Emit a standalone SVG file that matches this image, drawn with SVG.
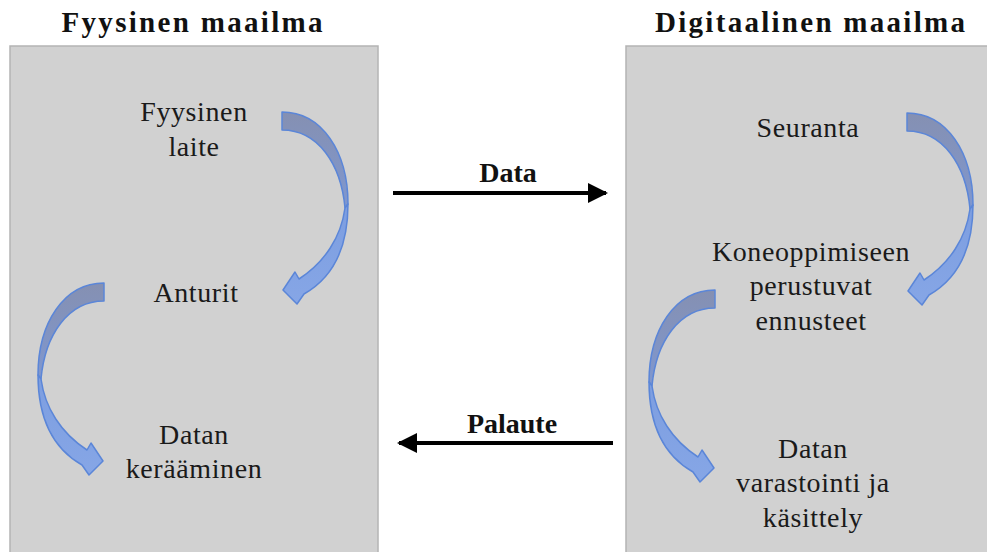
<svg xmlns="http://www.w3.org/2000/svg" xmlns:xlink="http://www.w3.org/1999/xlink" width="987" height="552" viewBox="0 0 987 552">
<style>
.box{fill:#d1d1d1;stroke:#b4b4b4;stroke-width:1.5}
text{font-family:"Liberation Serif","Times New Roman",serif}
.title{font-weight:bold;font-size:29px;fill:#111;text-anchor:middle}
.lbl{font-size:28px;fill:#1a1a1a;text-anchor:middle;letter-spacing:0.6px}
.elbl{font-weight:bold;font-size:28px;fill:#111;text-anchor:middle}
.conn{stroke:#000;stroke-width:4;fill:none}
.back{fill:url(#gBack);stroke:#5b86d8;stroke-width:1.5;stroke-linejoin:round}
.front{fill:url(#gFront);stroke:#5b86d8;stroke-width:1.5;stroke-linejoin:round}
</style>
<defs>
<linearGradient id="gBack" x1="0" y1="0" x2="0" y2="1">
<stop offset="0" stop-color="#8590b2"/>
<stop offset="1" stop-color="#7f97cf"/>
</linearGradient>
<linearGradient id="gFront" x1="0" y1="0" x2="0" y2="1">
<stop offset="0" stop-color="#7d9ee0"/>
<stop offset="1" stop-color="#86a6e6"/>
</linearGradient>
<marker id="ah" viewBox="0 0 10 10" refX="9" refY="5" markerWidth="5" markerHeight="5.5" orient="auto" markerUnits="strokeWidth">
<path d="M0,0 L10,5 L0,10 Z" fill="#000"/>
</marker>
<g id="curved">
<path class="back" d="M0,0 C40,0 66,40 66,92 L63,96 C59,52 36,18 0,18 Z"/>
<path class="front" d="M66,92 C66,135 52,165 22,182 L15,192 L1,178 L13,160 L17,167 C43,150 59,125 63,96 Z"/>
</g>
</defs>
<rect width="987" height="552" fill="#fff"/>
<g id="fyysinen-maailma">
<rect class="box" x="10" y="46" width="368" height="520"/>
<text class="title" x="192" y="32" textLength="261" lengthAdjust="spacing">Fyysinen  maailma</text>
</g>
<g id="digitaalinen-maailma">
<rect class="box" x="626" y="46" width="380" height="520"/>
<text class="title" x="810" y="32" textLength="310" lengthAdjust="spacing">Digitaalinen  maailma</text>
</g>
<g id="fyysinen-laite">
<text class="lbl" x="194" y="121">Fyysinen</text>
<text class="lbl" x="194" y="156">laite</text>
</g>
<g id="anturit">
<text class="lbl" x="196" y="302">Anturit</text>
</g>
<g id="datan-keraaminen">
<text class="lbl" x="194" y="444">Datan</text>
<text class="lbl" x="194" y="478">kerääminen</text>
</g>
<g id="seuranta">
<text class="lbl" x="808" y="137">Seuranta</text>
</g>
<g id="ennusteet">
<text class="lbl" x="811" y="261">Koneoppimiseen</text>
<text class="lbl" x="811" y="295">perustuvat</text>
<text class="lbl" x="811" y="330">ennusteet</text>
</g>
<g id="datan-varastointi">
<text class="lbl" x="813" y="458">Datan</text>
<text class="lbl" x="813" y="492">varastointi ja</text>
<text class="lbl" x="813" y="527">käsittely</text>
</g>
<g id="connectors">
<use xlink:href="#curved" transform="translate(282,112)"/>
<use xlink:href="#curved" transform="translate(104,283) scale(-1,1)"/>
<use xlink:href="#curved" transform="translate(907,113)"/>
<use xlink:href="#curved" transform="translate(715,290) scale(-1,1)"/>
<line class="conn" x1="393" y1="193" x2="606" y2="193" marker-end="url(#ah)"/>
<text class="elbl" x="508" y="182">Data</text>
<line class="conn" x1="613" y1="443" x2="399" y2="443" marker-end="url(#ah)"/>
<text class="elbl" x="512" y="433">Palaute</text>
</g>
</svg>
